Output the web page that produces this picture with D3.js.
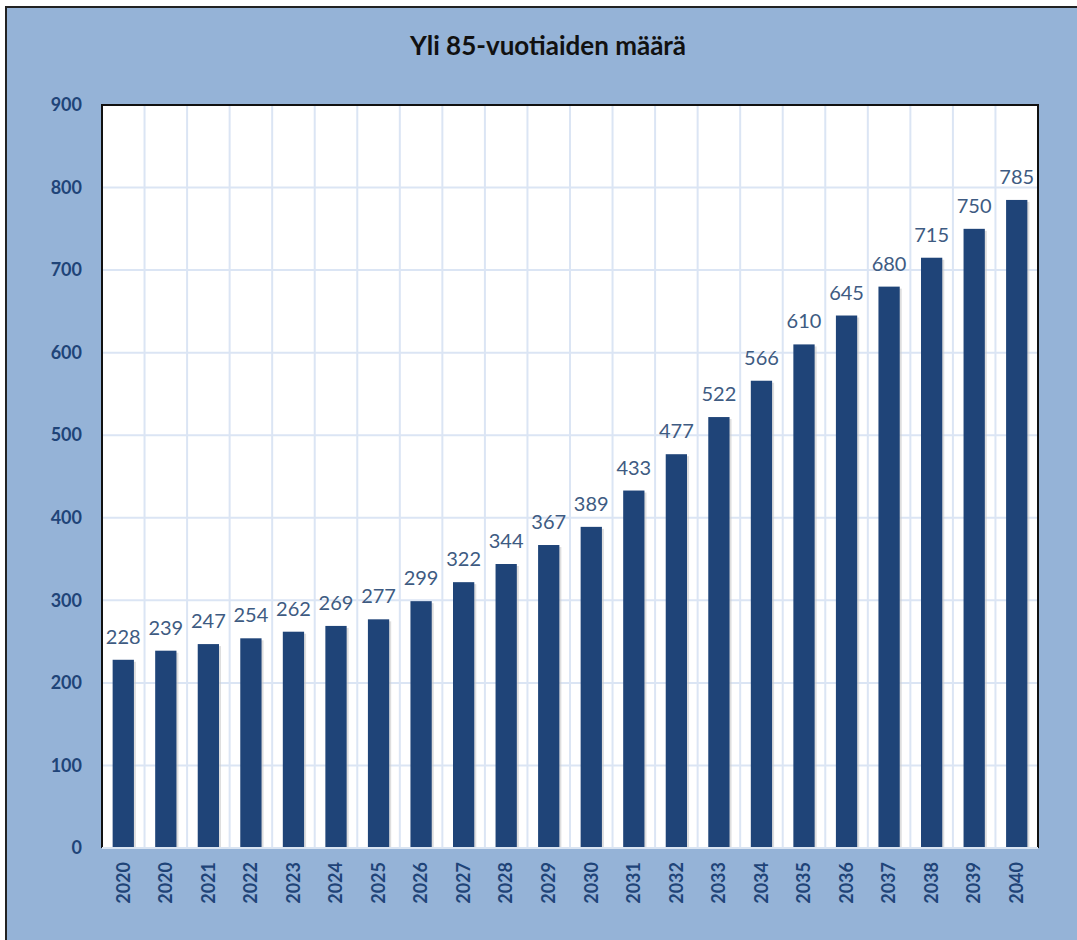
<!DOCTYPE html>
<html>
<head>
<meta charset="utf-8">
<script src="https://cdn.jsdelivr.net/npm/d3@7"></script>
<style>
  body { margin: 0; background: #fff; }
  svg { display: block; }
</style>
</head>
<body>
<script>
// Otsikko ja data
const title = "Yli 85-vuotiaiden määrä";
const years = ["2020", "2020", "2021", "2022", "2023", "2024", "2025", "2026", "2027", "2028", "2029",
  "2030", "2031", "2032", "2033", "2034", "2035", "2036", "2037", "2038", "2039", "2040"];
const values = [228, 239, 247, 254, 262, 269, 277, 299, 322, 344, 367,
  389, 433, 477, 522, 566, 610, 645, 680, 715, 750, 785];
const yTicks = [0, 100, 200, 300, 400, 500, 600, 700, 800, 900];

const width = 1077, height = 940;
const plot = { left: 102, top: 105, right: 1038, bottom: 848 };
const font = "Lato, 'Open Sans', sans-serif";

const svg = d3.select("body").append("svg")
  .attr("width", width)
  .attr("height", height);

// Ulompi kehys
svg.append("rect")
  .attr("x", 6).attr("y", 7)
  .attr("width", width + 10).attr("height", height + 10)
  .attr("fill", "#95b3d7")
  .attr("stroke", "#222").attr("stroke-width", 2);

// Otsikko
svg.append("text")
  .attr("x", 548).attr("y", 55)
  .attr("text-anchor", "middle")
  .attr("font-family", font)
  .attr("font-weight", "bold")
  .attr("font-size", 26)
  .attr("fill", "#111")
  .text(title);

const x = d3.scaleBand()
  .domain(d3.range(years.length))
  .range([plot.left, plot.right])
  .paddingInner(0.5).paddingOuter(0.25);

const y = d3.scaleLinear()
  .domain([0, 900])
  .range([plot.bottom, plot.top]);

// Piirtoalue
svg.append("rect")
  .attr("x", plot.left).attr("y", plot.top)
  .attr("width", plot.right - plot.left).attr("height", plot.bottom - plot.top)
  .attr("fill", "#fff");

// Ruudukko
const step = (plot.right - plot.left) / years.length;
svg.append("g").selectAll("line")
  .data(d3.range(1, years.length))
  .join("line")
  .attr("x1", d => plot.left + d * step).attr("x2", d => plot.left + d * step)
  .attr("y1", plot.top).attr("y2", plot.bottom)
  .attr("stroke", "#dbe5f4").attr("stroke-width", 2);

svg.append("g").selectAll("line")
  .data(yTicks.filter(d => d > 0 && d < 900))
  .join("line")
  .attr("x1", plot.left).attr("x2", plot.right)
  .attr("y1", d => y(d)).attr("y2", d => y(d))
  .attr("stroke", "#dbe5f4").attr("stroke-width", 2);

// Pylväät (varjo + pylväs)
svg.append("g").selectAll("rect")
  .data(values)
  .join("rect")
  .attr("x", (d, i) => x(i) + 2)
  .attr("y", d => y(d) + 2)
  .attr("width", x.bandwidth())
  .attr("height", d => plot.bottom - y(d) - 2)
  .attr("fill", "#c8c8c8").attr("opacity", 0.6);

svg.append("g").selectAll("rect")
  .data(values)
  .join("rect")
  .attr("x", (d, i) => x(i))
  .attr("y", d => y(d))
  .attr("width", x.bandwidth())
  .attr("height", d => plot.bottom - y(d))
  .attr("fill", "#1f4478");

// Arvot
svg.append("g").selectAll("text")
  .data(values)
  .join("text")
  .attr("x", (d, i) => x(i) + x.bandwidth() / 2)
  .attr("y", d => y(d) - 16)
  .attr("text-anchor", "middle")
  .attr("font-family", font)
  .attr("font-size", 20)
  .attr("fill", "#3e5b82")
  .text(d => d);

// Piirtoalueen reunat
svg.append("path")
  .attr("d", `M${plot.left},${plot.bottom}V${plot.top}H${plot.right}V${plot.bottom}`)
  .attr("fill", "none").attr("stroke", "#111").attr("stroke-width", 2);
svg.append("line")
  .attr("x1", plot.left).attr("x2", plot.right)
  .attr("y1", plot.bottom).attr("y2", plot.bottom)
  .attr("stroke", "#d9e4f2").attr("stroke-width", 2);

// Y-akseli
const yAxis = svg.append("g")
  .attr("transform", `translate(${plot.left - 20},0)`)
  .call(d3.axisLeft(y).tickValues(yTicks).tickSize(0).tickPadding(0));
yAxis.select(".domain").remove();
yAxis.selectAll("text")
  .attr("font-family", font)
  .attr("font-weight", "bold")
  .attr("font-size", 18)
  .attr("fill", "#1f4478");

// X-akseli
const xAxis = svg.append("g")
  .attr("transform", `translate(0,${plot.bottom})`)
  .call(d3.axisBottom(x).tickFormat(i => years[i]).tickSize(0));
xAxis.select(".domain").remove();
xAxis.selectAll("text")
  .attr("transform", "rotate(-90)")
  .attr("text-anchor", "end")
  .attr("x", -14)
  .attr("y", 0)
  .attr("dy", "0.35em")
  .attr("font-family", font)
  .attr("font-weight", "bold")
  .attr("font-size", 18)
  .attr("fill", "#1f4478");
</script>
</body>
</html>
